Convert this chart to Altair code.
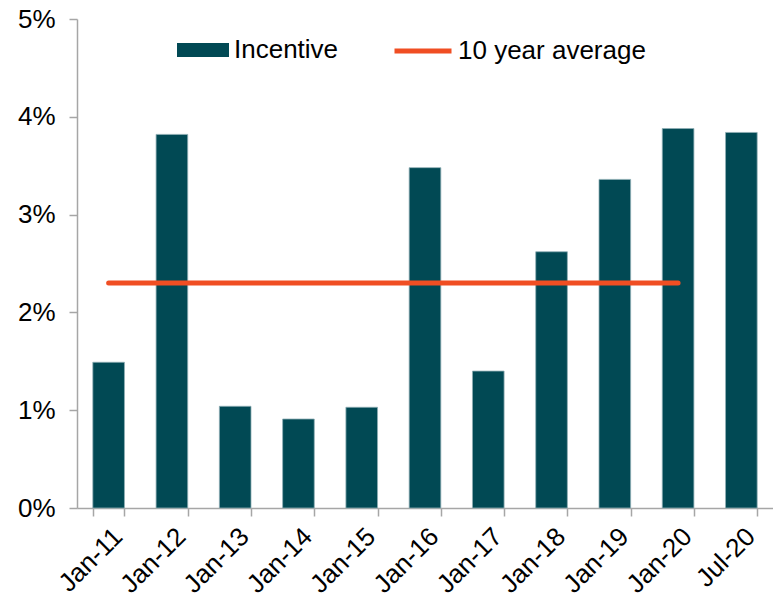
import altair as alt
import pandas as pd

categories = ["Jan-11", "Jan-12", "Jan-13", "Jan-14", "Jan-15", "Jan-16",
              "Jan-17", "Jan-18", "Jan-19", "Jan-20", "Jul-20"]
incentive = [0.0149, 0.0382, 0.0104, 0.0091, 0.0103, 0.0348,
             0.0140, 0.0262, 0.0336, 0.0388, 0.0384]
avg_categories = ["Jan-11", "Jan-12", "Jan-13", "Jan-14", "Jan-15", "Jan-16",
                  "Jan-17", "Jan-18", "Jan-19", "Jan-20"]
avg_values = [0.023] * len(avg_categories)

TEAL = "#014954"
ORANGE = "#F04E23"
FONT = "Liberation Sans"
X_FS = 26
Y_FS = 26

bars_df = pd.DataFrame({"cat": categories, "val": incentive, "series": "Incentive"})
avg_df = pd.DataFrame({"cat": avg_categories, "val": avg_values, "series": "10 year average"})

x_axis = alt.Axis(labelAngle=-45, labelAlign="right", labelBaseline="top",
                  labelFontSize=X_FS, labelFont=FONT, labelPadding=7,
                  tickBand="extent", tickSize=8)
y_axis = alt.Axis(format=".0%", values=[0, 0.01, 0.02, 0.03, 0.04, 0.05],
                  labelFontSize=Y_FS, labelFont=FONT, labelPadding=14, tickSize=8)

x = alt.X("cat:N", sort=categories, title=None,
          scale=alt.Scale(paddingInner=0.5, paddingOuter=0.25), axis=x_axis)
y = alt.Y("val:Q", title=None, scale=alt.Scale(domain=[0, 0.05], nice=False), axis=y_axis)

bars = alt.Chart(bars_df).mark_bar(stroke="#8FAFB5", strokeWidth=0.8).encode(
    x=x, y=y,
    fill=alt.Fill("series:N",
                  scale=alt.Scale(domain=["Incentive"], range=[TEAL]),
                  legend=alt.Legend(title=None, orient="none", legendX=100, legendY=5,
                                    symbolType="M-1,-0.27H1V0.27H-1Z",
                                    symbolSize=2704, symbolStrokeWidth=0,
                                    labelOffset=5, padding=0))
)

line = alt.Chart(avg_df).mark_line(strokeWidth=5, strokeCap="round").encode(
    x=alt.X("cat:N", sort=categories, title=None, axis=x_axis),
    y=alt.Y("val:Q", title=None, axis=y_axis),
    stroke=alt.Stroke("series:N",
                      scale=alt.Scale(domain=["10 year average"], range=[ORANGE]),
                      legend=alt.Legend(title=None, orient="none", legendX=315, legendY=1,
                                        symbolType="stroke", symbolSize=3249,
                                        symbolStrokeWidth=5,
                                        labelOffset=4, padding=0))
)

chart = alt.layer(bars, line).properties(
    width=696, height=489,
    autosize=alt.AutoSizeParams(type="none"),
    padding={"left": 77, "top": 19, "right": 0, "bottom": 91},
    background="white",
).configure_view(stroke=None).configure_axis(
    labelFont=FONT, labelColor="#000000", domainColor="#A6A6A6", tickColor="#A6A6A6",
    domainWidth=1.5, tickWidth=1.5, grid=False, labelLimit=300
).configure_legend(
    labelFont=FONT, labelFontSize=26, labelColor="#000000", labelLimit=400
)

chart.save("out.html", embed_options={"renderer": "svg", "actions": False})
